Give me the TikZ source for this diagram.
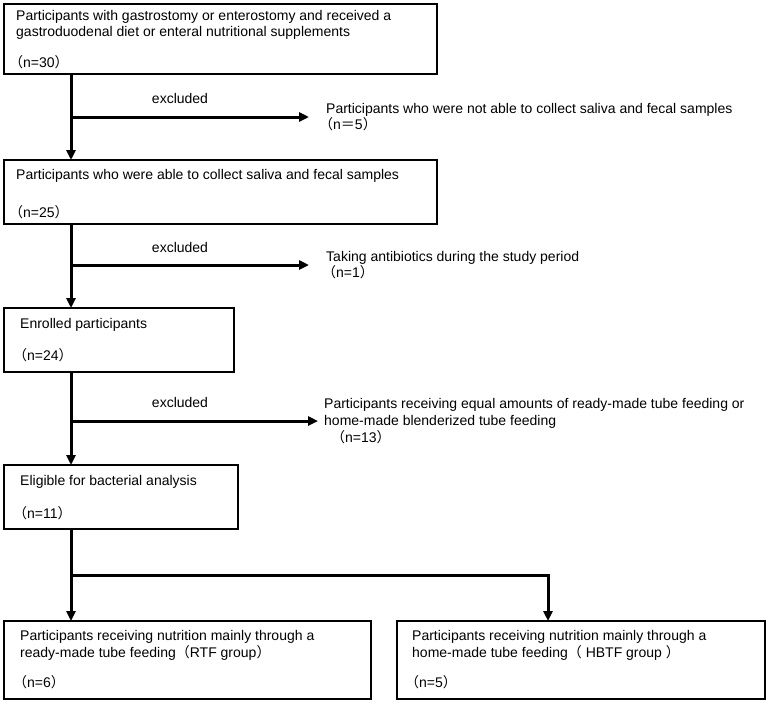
\documentclass[tikz,border=0pt]{standalone}
\usepackage{fontspec}
\setmainfont{Liberation Sans}
\newfontfamily\cjk{Noto Sans CJK JP}
\usetikzlibrary{arrows.meta}
\newcommand{\lpar}{{\cjk （}}
\newcommand{\rpar}{{\cjk ）}}
\newcommand{\feq}{{\cjk ＝}}
\begin{document}
\begin{tikzpicture}[x=1pt,y=-1pt,
  font=\fontsize{14}{17}\selectfont,
  box/.style={draw, line width=2pt, inner sep=0pt, outer sep=0pt, anchor=north west},
  txt/.style={inner sep=0pt, anchor=west},
  excl/.style={inner ysep=0pt, inner xsep=17pt, anchor=west, align=left},
  lbl/.style={inner sep=0pt},
  arr/.style={line width=3pt, -{Triangle[length=10pt,width=9pt]}},
  ln/.style={line width=3pt}]
\useasboundingbox (0,0) rectangle (767,704);
\coordinate (spine) at (71,0);
\coordinate (rb) at (548,0);
% boxes
\node[box, minimum width=433pt, minimum height=70pt] (b1) at (4,4) {};
\node[box, minimum width=433pt, minimum height=64pt] (b2) at (4,160) {};
\node[box, minimum width=230pt, minimum height=64pt] (b3) at (4,308) {};
\node[box, minimum width=234pt, minimum height=64pt] (b4) at (4,465) {};
\node[box, minimum width=367pt, minimum height=78pt] (b5) at (4,621) {};
\node[box, minimum width=368pt, minimum height=78pt] (b6) at (397,621) {};
% box texts
\node[txt] (t1a) at (16,17) {Participants with gastrostomy or enterostomy and received a};
\node[txt] (t1b) at (16,33) {gastroduodenal diet or enteral nutritional supplements};
\node[txt] (t1c) at (9,62) {\lpar n=30\rpar};
\node[txt] (t2a) at (16,176) {Participants who were able to collect saliva and fecal samples};
\node[txt] (t2b) at (9,212) {\lpar n=25\rpar};
\node[txt] (t3a) at (20,325) {Enrolled participants};
\node[txt] (t3b) at (13,355) {\lpar n=24\rpar};
\node[txt] (t4a) at (20,482) {Eligible for bacterial analysis};
\node[txt] (t4b) at (13,513) {\lpar n=11\rpar};
\node[txt] (t5a) at (20,637) {Participants receiving nutrition mainly through a};
\node[txt] (t5b) at (20,653) {ready-made tube feeding\lpar RTF group\rpar};
\node[txt] (t5c) at (13,682) {\lpar n=6\rpar};
\node[txt] (t6a) at (412,637) {Participants receiving nutrition mainly through a};
\node[txt] (t6b) at (412,653) {home-made tube feeding\lpar\ HBTF group \rpar};
\node[txt] (t6c) at (405,682) {\lpar n=5\rpar};
% exclusions
\node[excl] (x1) at (309,117) {Participants who were not able to collect saliva and fecal samples\\[-1pt]\hspace*{-7pt}\lpar n\feq 5\rpar};
\node[excl] (x2) at (309,265) {Taking antibiotics during the study period\\[-1pt]\hspace*{-4pt}\lpar n=1\rpar};
\node[excl, inner xsep=6pt] (x3) at (318,421) {Participants receiving equal amounts of ready-made tube feeding or\\home-made blenderized tube feeding\\\hspace*{7pt}\lpar n=13\rpar};
\node[lbl] (e1) at (180,98) {excluded};
\node[lbl] (e2) at (180,247) {excluded};
\node[lbl] (e3) at (180,402) {excluded};
% connectors
\draw[arr] (b1.south -| spine) -- (b2.north -| spine);
\draw[arr] (b2.south -| spine) -- (b3.north -| spine);
\draw[arr] (b3.south -| spine) -- (b4.north -| spine);
\draw[arr] (spine |- x1.west) -- (x1.west);
\draw[arr] (spine |- x2.west) -- (x2.west);
\draw[arr] (spine |- x3.west) -- (x3.west);
\coordinate (br) at (71,575);
\draw[arr] (b4.south -| spine) -- (b5.north -| spine);
\draw[arr] (br) -| (b6.north -| rb);
\end{tikzpicture}
\end{document}
